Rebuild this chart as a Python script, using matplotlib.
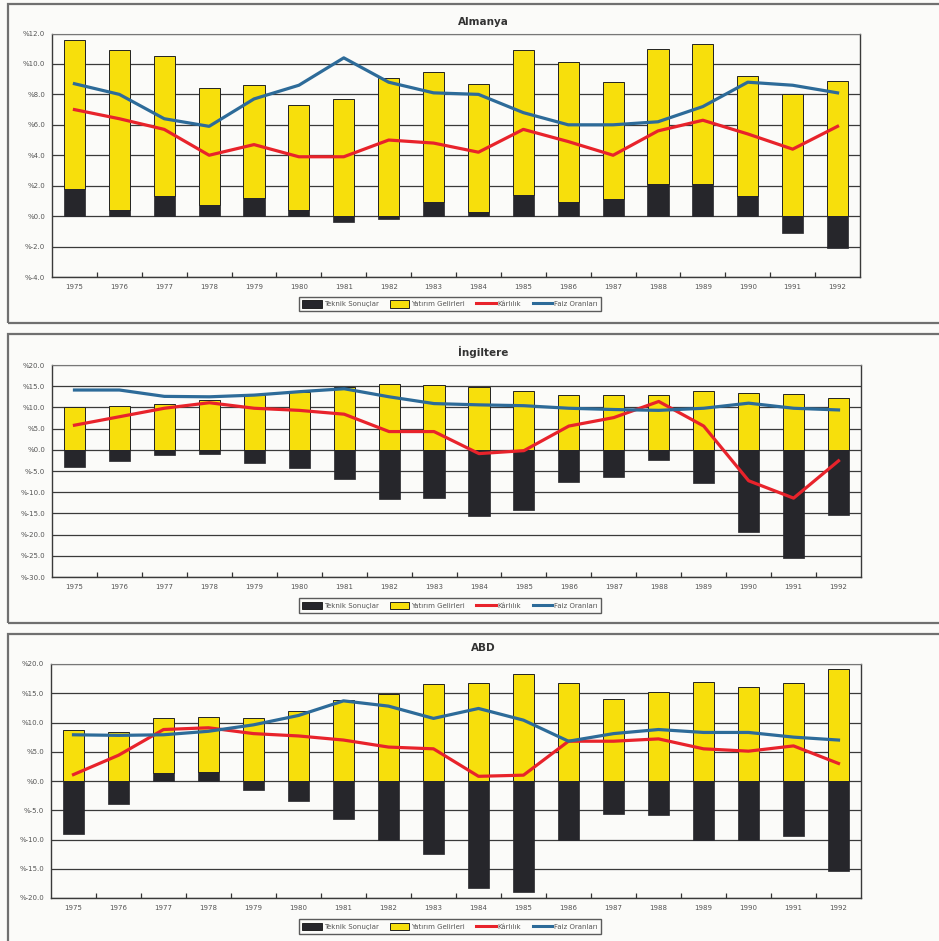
import matplotlib.pyplot as plt
import numpy as np
from matplotlib.patches import Patch, Rectangle
from matplotlib.lines import Line2D
from matplotlib.ticker import FixedLocator, FuncFormatter

years = list(range(1975, 1993))

# Almanya
de_teknik = [1.8, 0.4, 1.3, 0.7, 1.2, 0.4, -0.4, -0.2, 0.9, 0.3, 1.4, 0.9, 1.1, 2.1, 2.1, 1.3, -1.1, -2.1]
de_yatirim = [9.8, 10.5, 9.2, 7.7, 7.4, 6.9, 7.7, 9.1, 8.6, 8.4, 9.5, 9.2, 7.7, 8.9, 9.2, 7.9, 8.0, 8.9]
de_karlilik = [7.0, 6.4, 5.7, 4.0, 4.7, 3.9, 3.9, 5.0, 4.8, 4.2, 5.7, 4.9, 4.0, 5.6, 6.3, 5.4, 4.4, 5.9]
de_faiz = [8.7, 8.0, 6.4, 5.9, 7.7, 8.6, 10.4, 8.8, 8.1, 8.0, 6.8, 6.0, 6.0, 6.2, 7.2, 8.8, 8.6, 8.1]

# İngiltere
uk_teknik = [-4.0, -2.7, -1.3, -1.0, -3.2, -4.4, -7.0, -11.7, -11.4, -15.7, -14.1, -7.5, -6.3, -2.3, -7.8, -19.3, -25.5, -15.4]
uk_yatirim = [10.0, 10.3, 10.7, 11.7, 12.9, 13.6, 14.7, 15.6, 15.3, 14.7, 13.8, 12.9, 12.9, 12.9, 13.9, 13.4, 13.1, 12.3]
uk_karlilik = [5.8, 7.8, 9.8, 11.1, 9.8, 9.3, 8.4, 4.3, 4.3, -0.9, -0.2, 5.6, 7.6, 11.4, 5.6, -7.3, -11.4, -2.6]
uk_faiz = [14.1, 14.1, 12.6, 12.5, 12.9, 13.7, 14.4, 12.5, 10.9, 10.6, 10.4, 9.8, 9.5, 9.3, 9.8, 11.0, 9.8, 9.4]

# ABD
us_teknik = [-9.0, -3.9, 1.4, 1.5, -1.6, -3.5, -6.5, -10.0, -12.5, -18.3, -18.9, -10.0, -5.6, -5.8, -10.0, -10.0, -9.4, -15.4]
us_yatirim = [8.7, 8.3, 9.3, 9.4, 10.7, 11.9, 13.8, 14.9, 16.5, 16.8, 18.3, 16.8, 14.1, 15.2, 17.0, 16.1, 16.7, 19.2]
us_karlilik = [1.1, 4.4, 8.8, 9.1, 8.1, 7.7, 7.0, 5.8, 5.5, 0.8, 1.0, 6.8, 6.8, 7.2, 5.5, 5.1, 6.0, 3.0]
us_faiz = [7.9, 7.8, 7.9, 8.5, 9.6, 11.2, 13.7, 12.8, 10.7, 12.4, 10.4, 6.8, 8.1, 8.8, 8.3, 8.3, 7.5, 7.0]

W, H = 939, 941
BLACK = '#26262b'
YELLOW = '#f7df0c'
RED = '#e8232b'
BLUE = '#2d6b99'
BG = '#fbfbf9'

fig = plt.figure(figsize=(W / 100, H / 100), dpi=100, facecolor=BG)


def px_rect(left, top, right, bottom):
    return [left / W, 1 - bottom / H, (right - left) / W, (bottom - top) / H]


def panel(rect, title, title_y, frame, legend_y, teknik, yatirim, karlilik, faiz, ymin, ymax, step):
    # outer frame around the whole panel
    fx0, fy0, fx1, fy1 = frame
    fig.patches.append(Rectangle((fx0 / W, 1 - fy1 / H), (fx1 - fx0) / W, (fy1 - fy0) / H,
                                 transform=fig.transFigure, fill=False,
                                 edgecolor='#707070', lw=1.6, zorder=0))
    fig.text(483 / W, 1 - title_y / H, title, ha='center', va='center',
             fontsize=7.5, fontweight='bold', color='#333333')

    ax = fig.add_axes(px_rect(*rect))
    ax.set_facecolor(BG)
    x = np.arange(len(years))
    teknik = np.array(teknik)
    yatirim = np.array(yatirim)
    base = np.clip(teknik, 0, None)

    ax.bar(x, yatirim, width=0.47, bottom=base, color=YELLOW, edgecolor='#222222', lw=0.7, zorder=2)
    ax.bar(x, teknik, width=0.47, color=BLACK, edgecolor=BLACK, lw=0.5, zorder=2)
    ax.plot(x, karlilik, color=RED, lw=2.3, zorder=3, solid_joinstyle='round')
    ax.plot(x, faiz, color=BLUE, lw=2.3, zorder=3, solid_joinstyle='round')

    ax.set_xlim(-0.5, len(years) - 0.5)
    ax.set_ylim(ymin, ymax)
    yt = np.arange(ymin, ymax + step / 2, step)
    ax.set_yticks(yt)
    ax.yaxis.set_major_formatter(FuncFormatter(lambda v, p: '%' + f'{v:.1f}'))
    ax.yaxis.grid(True, color='#3a3a3a', lw=0.9, zorder=0)
    ax.set_axisbelow(True)
    ax.set_xticks(x)
    ax.set_xticklabels(years)
    ax.xaxis.set_minor_locator(FixedLocator(np.arange(0.5, len(years) - 1, 1)))
    ax.tick_params(axis='x', which='major', length=0, pad=5, labelsize=5, labelcolor='#555555')
    ax.tick_params(axis='x', which='minor', length=3.5, width=0.9, direction='in', color='#333333')
    ax.tick_params(axis='y', length=0, pad=5, labelsize=5, labelcolor='#555555')
    for side in ['left', 'bottom', 'right']:
        ax.spines[side].set_color('#3a3a3a')
        ax.spines[side].set_linewidth(1.0)
    ax.spines['top'].set_color('#777777')
    ax.spines['top'].set_linewidth(0.8)

    handles = [Patch(facecolor=BLACK, edgecolor='#222222', lw=0.7),
               Patch(facecolor=YELLOW, edgecolor='#222222', lw=0.7),
               Line2D([], [], color=RED, lw=2.2),
               Line2D([], [], color=BLUE, lw=2.2)]
    labels = ['Teknik Sonuçlar', 'Yatırım Gelirleri', 'Kârlılık', 'Faiz Oranları']
    leg = fig.legend(handles, labels, loc='center', bbox_to_anchor=(450 / W, 1 - legend_y / H),
                     ncol=4, fontsize=5, frameon=True, fancybox=False, edgecolor='#333333',
                     handlelength=2.8, handleheight=1.2, handletextpad=0.3, columnspacing=1.6,
                     borderpad=0.5, labelcolor='#555555')
    leg.get_frame().set_linewidth(1.0)
    leg.get_frame().set_facecolor(BG)
    return ax


panel((52, 33.5, 860, 277), 'Almanya', 22, (8, 4, 950, 323), 304,
      de_teknik, de_yatirim, de_karlilik, de_faiz, -4, 12, 2)
panel((52, 365, 861, 577), 'İngiltere', 352, (8, 334, 950, 623), 605.5,
      uk_teknik, uk_yatirim, uk_karlilik, uk_faiz, -30, 20, 5)
panel((51, 664, 861, 898), 'ABD', 648, (8, 634, 950, 960), 926.5,
      us_teknik, us_yatirim, us_karlilik, us_faiz, -20, 20, 5)

fig.savefig('out.png', dpi=100, facecolor=BG)
